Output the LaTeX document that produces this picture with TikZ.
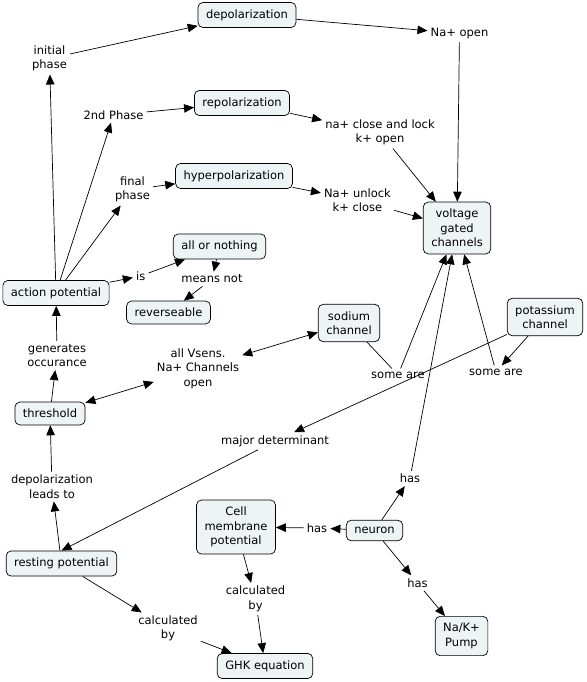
\documentclass[tikz,border=0pt]{standalone}
\usepackage{fontspec}
\setmainfont{DejaVu Sans}
\usetikzlibrary{arrows.meta}
\definecolor{boxfill}{HTML}{EEF3F6}
\tikzset{
  concept/.style={draw, rounded corners=5pt, fill=boxfill, line width=0.7pt,
    inner xsep=8pt, inner ysep=7pt, align=center},
  phrase/.style={inner sep=3pt, align=center},
  arr/.style={-{Triangle[length=10pt,width=8.5pt]}, line width=0.7pt},
  twoarr/.style={{Triangle[length=10pt,width=8.5pt]}-{Triangle[length=10pt,width=8.5pt]}, line width=0.7pt},
  plain/.style={line width=0.7pt}
}
\begin{document}
\begin{tikzpicture}[x=1pt,y=-1pt,font=\fontsize{11.5}{14.5}\selectfont]
        \useasboundingbox (0,0) rectangle (586,682);

        % Concepts
        \node[concept] (dep) at (247,15) {depolarization};
        \node[concept] (rep) at (242,103) {repolarization};
        \node[concept] (hyp) at (234,176) {hyperpolarization};
        \node[concept] (aon) at (219.5,246.5) {all or nothing};
        \node[concept] (rev) at (168.5,312.5) {reverseable};
        \node[concept] (ap) at (56,293) {action potential};
        \node[concept] (vgc) at (457,228) {voltage\\gated\\channels};
        \node[concept] (sod) at (349,323) {sodium\\channel};
        \node[concept] (pot) at (545,317) {potassium\\channel};
        \node[concept] (thr) at (50,413.5) {threshold};
        \node[concept] (rest) at (61.5,563.5) {resting potential};
        \node[concept] (cmp) at (236,527) {Cell\\membrane\\potential};
        \node[concept] (neu) at (374.5,530.5) {neuron};
        \node[concept] (pump) at (461.5,636) {Na/K+\\Pump};
        \node[concept] (ghk) at (265,666) {GHK equation};

        % Linking phrases
        \node[phrase] (init) at (49.5,58.5) {initial\\phase};
        \node[phrase] (second) at (113.5,115) {2nd Phase};
        \node[phrase] (final) at (132.5,189.5) {final\\phase};
        \node[phrase] (is) at (140.7,276) {is};
        \node[phrase] (mnot) at (212,279) {means not};
        \node[phrase] (naopen) at (459.5,33.5) {Na+ open};
        \node[phrase] (nalock) at (380,132.5) {na+ close and lock\\k+ open};
        \node[phrase] (naunl) at (357.5,200) {Na+ unlock\\k+ close};
        \node[phrase] (gen) at (57,355.5) {generates\\occurance};
        \node[phrase] (vsens) at (198,368.5) {all Vsens.\\Na+ Channels\\open};
        \node[phrase] (some1) at (398,375) {some are};
        \node[phrase] (some2) at (496,372) {some are};
        \node[phrase] (major) at (275,441) {major determinant};
        \node[phrase] (dlead) at (52,486.5) {depolarization\\leads to};
        \node[phrase] (hasup) at (410,478.5) {has};
        \node[phrase] (hasl) at (317,528) {has};
        \node[phrase] (hasdn) at (417.5,583) {has};
        \node[phrase] (calc1) at (255.5,599) {calculated\\by};
        \node[phrase] (calc2) at (168,628.5) {calculated\\by};

        % Phases of the action potential
        \draw[arr] (ap) -- (init);
        \draw[arr] (init) -- (dep);
        \draw[arr] (dep) -- (naopen);
        \draw[arr] (naopen) -- (vgc);
        \draw[arr] (ap) -- (second);
        \draw[arr] (second) -- (rep);
        \draw[arr] (rep) -- (nalock);
        \draw[arr] (nalock) -- (vgc);
        \draw[arr] (ap) -- (final);
        \draw[arr] (final) -- (hyp);
        \draw[arr] (hyp) -- (naunl);
        \draw[arr] (naunl) -- (vgc);
        \draw[arr] (ap) -- (is);
        \draw[arr] (is) -- (aon);
        \draw[arr] (aon) -- (mnot);
        \draw[arr] (mnot) -- (rev);

        % Threshold and resting potential
        \draw[arr] (thr) -- (gen);
        \draw[arr] (gen) -- (ap);
        \draw[twoarr] (thr) -- (vsens);
        \draw[twoarr] (vsens) -- (sod);
        \draw[arr] (rest) -- (dlead);
        \draw[arr] (dlead) -- (thr);
        \draw[arr] (major) -- (rest.north);
        \draw[arr] (rest) -- (calc2);
        \draw[arr] (calc2) -- (ghk);

        % Channels
        \draw[plain] (sod) -- (some1);
        \draw[arr] (some1) -- (vgc);
        \draw[arr] (pot) -- (some2);
        \draw[arr] (some2) -- (vgc);
        \draw[arr] (pot) -- (major);

        % Neuron
        \draw[arr] (neu) -- (hasup);
        \draw[arr] (hasup) -- (vgc);
        \draw[arr] (neu) -- (hasl);
        \draw[arr] (hasl) -- (cmp);
        \draw[arr] (neu) -- (hasdn);
        \draw[arr] (hasdn) -- (pump);
        \draw[arr] (cmp) -- (calc1);
        \draw[arr] (calc1) -- (ghk);
\end{tikzpicture}
\end{document}
